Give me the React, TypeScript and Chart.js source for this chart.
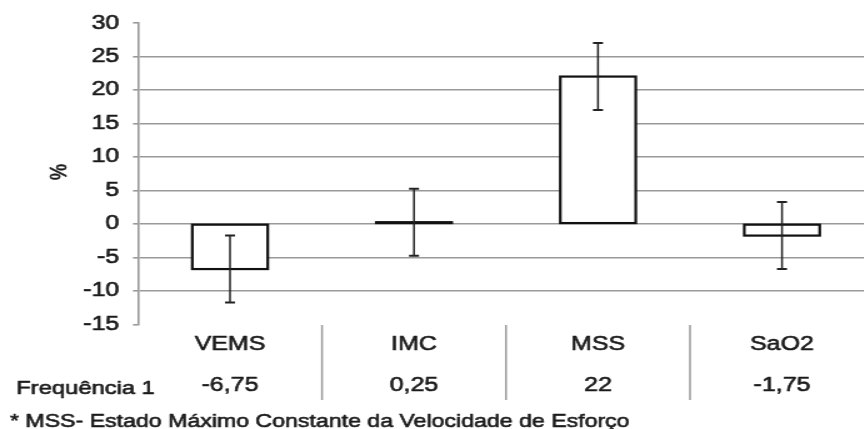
import React, { useEffect, useRef } from "react";
import { Chart, registerables } from "chart.js";

Chart.register(...registerables);

const categories = ["VEMS", "IMC", "MSS", "SaO2"];
const values = [-6.75, 0.25, 22, -1.75];
const errors = [5, 5, 5, 5];
const rowLabel = "Frequência 1";
const footnote = "* MSS- Estado Máximo Constante da Velocidade de Esforço";
const yLabel = "%";
const yMin = -15;
const yMax = 30;
const yStep = 5;

const SX = 1.25; // horizontal stretch of the reference
const CW = 704;
const CH = 429;
const FONT = "'Liberation Sans', Arial, sans-serif";
const INK = "#1a1a1a";

const fmt = (v: number) => String(v).replace(".", ",");

const tablePlugin = {
  id: "tablePlugin",
  afterDatasetsDraw(chart: any) {
    const ctx = chart.ctx;
    const y = chart.scales.y;
    const meta = chart.getDatasetMeta(0);
    ctx.save();
    // bar outlines
    ctx.strokeStyle = "#111";
    ctx.lineWidth = 2.2;
    meta.data.forEach((bar: any) => {
      const top = Math.min(bar.y, bar.base);
      const h = Math.abs(bar.y - bar.base);
      ctx.strokeRect(bar.x - bar.width / 2, top, bar.width, h);
    });
    // error bars
    ctx.strokeStyle = "#222";
    values.forEach((v, i) => {
      const x = meta.data[i].x;
      const yt = y.getPixelForValue(v + errors[i]);
      const yb = y.getPixelForValue(v - errors[i]);
      ctx.lineWidth = 1.5;
      ctx.beginPath();
      ctx.moveTo(x, yt);
      ctx.lineTo(x, yb);
      ctx.stroke();
      ctx.lineWidth = 2;
      ctx.beginPath();
      ctx.moveTo(x - 4, yt);
      ctx.lineTo(x + 4, yt);
      ctx.moveTo(x - 4, yb);
      ctx.lineTo(x + 4, yb);
      ctx.stroke();
    });
    ctx.restore();
  },
  afterDraw(chart: any) {
    const ctx = chart.ctx;
    const xs = chart.scales.x;
    const area = chart.chartArea;
    const cw = (area.right - area.left) / categories.length;
    const txt = (s: string, x: number, yy: number) => {
      ctx.strokeText(s, x, yy);
      ctx.fillText(s, x, yy);
    };
    ctx.save();
    ctx.fillStyle = INK;
    ctx.strokeStyle = INK;
    ctx.lineWidth = 0.6;
    ctx.lineJoin = "round";
    ctx.textAlign = "center";
    ctx.textBaseline = "alphabetic";
    categories.forEach((c, i) => {
      const cx = xs.getPixelForValue(i);
      ctx.font = `20px ${FONT}`;
      txt(c, cx, 350);
      txt(fmt(values[i]), cx, 391);
    });
    // separators
    ctx.strokeStyle = "#999";
    ctx.lineWidth = 1.5;
    for (let i = 1; i < categories.length; i++) {
      const bx = area.left + cw * i;
      ctx.beginPath();
      ctx.moveTo(bx, 325);
      ctx.lineTo(bx, 400);
      ctx.stroke();
    }
    ctx.strokeStyle = INK;
    ctx.lineWidth = 0.6;
    ctx.textAlign = "left";
    ctx.font = `19px ${FONT}`;
    txt(rowLabel, 13, 394);
    ctx.font = `18.5px ${FONT}`;
    txt(footnote, 8, 427);
    // y label
    ctx.translate(48, 172);
    ctx.rotate(-Math.PI / 2);
    ctx.textAlign = "center";
    ctx.textBaseline = "middle";
    ctx.font = `18px ${FONT}`;
    txt(yLabel, 0, 0);
    ctx.restore();
  },
};

export default function App() {
  const ref = useRef<HTMLCanvasElement>(null);
  useEffect(() => {
    if (!ref.current) return;
    const chart = new Chart(ref.current, {
      type: "bar",
      data: {
        labels: categories,
        datasets: [
          {
            data: values,
            backgroundColor: "#ffffff",
            borderWidth: 0,
            barPercentage: 0.41,
            categoryPercentage: 1,
          },
        ],
      },
      options: {
        responsive: false,
        animation: false,
        devicePixelRatio: 1,
        layout: { padding: { left: 0, right: 4.8, top: 21.7, bottom: 104.7 } },
        plugins: { legend: { display: false }, tooltip: { enabled: false } },
        scales: {
          x: { display: false },
          y: {
            min: yMin,
            max: yMax,
            afterFit(scale: any) {
              scale.width = 110.4;
            },
            ticks: {
              stepSize: yStep,
              padding: 11,
              color: INK,
              textStrokeColor: INK,
              textStrokeWidth: 0.6,
              font: { family: FONT, size: 20 },
            },
            grid: {
              color: (c: any) =>
                c.tick && (c.tick.value === yMax || c.tick.value === yMin) ? "rgba(0,0,0,0)" : "#999",
              tickColor: "#999",
              tickLength: 4,
              lineWidth: 1.6,
            },
            border: { display: true, color: "#999", width: 1.6 },
          },
        },
      },
      plugins: [tablePlugin],
    });
    return () => chart.destroy();
  }, []);
  return (
    <div style={{ position: "absolute", left: 0, top: 0, width: 864, height: CH, overflow: "hidden", background: "#fff" }}>
      <div style={{ width: CW, height: CH, transform: `scaleX(${SX})`, transformOrigin: "0 0" }}>
        <canvas ref={ref} width={CW} height={CH} style={{ width: CW, height: CH, display: "block" }} />
      </div>
    </div>
  );
}
